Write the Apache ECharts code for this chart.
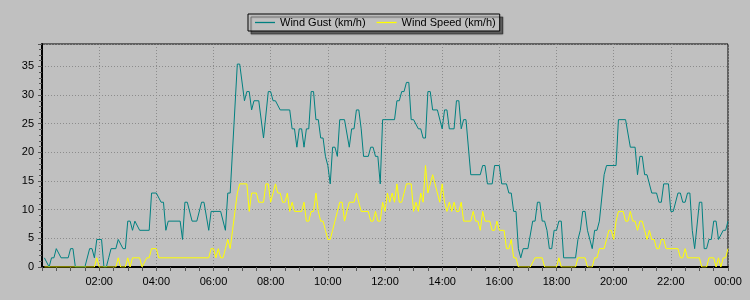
<!DOCTYPE html>
<html>
<head>
<meta charset="utf-8">
<script src="https://cdn.jsdelivr.net/npm/echarts@6/dist/echarts.min.js"></script>
<style>
html,body{margin:0;padding:0;background:#c0c0c0;}
#chart{width:750px;height:300px;}
</style>
</head>
<body>
<div id="chart"></div>
<script>
// minutes after midnight (1440 = next 00:00)
var gustTimes = [5,15,20,25,30,40,55,60,65,70,90,100,105,110,115,125,130,135,140,145,155,160,170,175,180,185,190,195,205,225,
230,240,250,255,260,265,290,295,300,305,315,325,335,340,350,355,375,385,390,395,410,415,425,430,435,440,445,455,465,
475,480,485,490,500,520,525,530,535,540,545,550,555,560,565,570,575,580,585,590,595,600,605,610,615,620,625,635,645,650,655,660,665,670,675,685,690,695,700,705,
710,715,740,745,750,755,760,765,770,775,780,790,795,800,805,810,815,820,830,840,845,850,855,865,870,875,880,885,890,900,920,925,930,935,945,950,
960,965,975,980,985,990,995,1000,1005,1010,1020,1030,1035,1040,1045,1050,1055,1060,1065,1070,1075,1080,1085,1090,1095,1120,1125,1130,1135,1140,1145,1155,1160,1165,1170,1180,1185,
1205,1210,1225,1235,1245,1250,1255,1260,1265,1270,1280,1290,1295,1300,1305,1315,1320,1325,1335,1340,1345,1350,1355,1360,1365,1370,1380,1385,1390,1395,1400,1405,1410,1415,1420,1430,1435,1440];
var gustValues = [1.6,0,1.6,1.6,3.2,1.6,1.6,3.2,3.2,0,0,3.2,3.2,1.6,4.8,4.8,0,0,1.6,3.2,3.2,4.8,3.2,3.2,8.0,8.0,6.4,8.0,6.4,6.4,
12.9,12.9,11.3,11.3,6.4,8.0,8.0,4.8,11.3,11.3,8.0,8.0,11.3,11.3,6.4,9.7,9.7,6.4,12.9,12.9,35.4,35.4,29.0,30.6,30.6,27.4,29.0,29.0,22.5,
30.6,30.6,29.0,29.0,27.4,27.4,24.1,24.1,20.9,24.1,24.1,20.9,24.1,24.1,30.6,30.6,25.7,25.7,22.5,22.5,19.3,17.7,14.5,20.9,20.9,19.3,25.7,25.7,20.9,24.1,24.1,27.4,27.4,24.1,19.3,19.3,20.9,20.9,19.3,19.3,
14.5,25.7,25.7,29.0,29.0,30.6,30.6,32.2,32.2,25.7,25.7,24.1,24.1,22.5,22.5,30.6,30.6,27.4,27.4,24.1,27.4,27.4,24.1,24.1,29.0,29.0,24.1,25.7,25.7,16.1,16.1,17.7,17.7,14.5,14.5,17.7,
17.7,14.5,14.5,12.9,12.9,9.7,9.7,3.2,1.6,3.2,3.2,8.0,8.0,11.3,11.3,8.0,8.0,6.4,3.2,3.2,6.4,6.4,8.0,8.0,1.6,1.6,4.8,6.4,9.7,9.7,6.4,3.2,6.4,6.4,8.0,16.1,17.7,
17.7,25.7,25.7,20.9,20.9,16.1,19.3,19.3,16.1,16.1,12.9,12.9,11.3,11.3,14.5,14.5,9.7,9.7,12.9,12.9,11.3,11.3,12.9,12.9,6.4,3.2,11.3,11.3,3.2,3.2,4.8,4.8,8.0,8.0,4.8,6.4,6.4,8.0];

var speedTimes = [5,110,115,120,155,160,165,175,180,185,190,205,210,220,225,230,240,245,350,355,360,365,370,375,380,385,390,395,400,405,410,415,430,435,440,450,455,465,
470,475,480,490,495,500,505,510,515,520,525,530,545,550,555,560,565,570,575,580,585,590,595,600,605,610,615,620,625,630,635,640,645,655,660,665,670,685,690,695,700,705,
710,715,720,725,730,735,740,745,750,755,760,765,775,780,785,790,795,800,805,810,820,825,830,835,840,845,850,855,860,865,870,875,880,885,900,905,910,915,920,925,930,940,945,950,
955,960,970,975,980,985,990,995,1000,1025,1035,1050,1055,1080,1085,1090,1120,1125,1140,1145,1155,1160,1165,1170,1180,1185,1190,1195,1200,1205,1210,1220,1225,1230,1235,1240,1245,
1250,1255,1260,1265,1270,1275,1280,1285,1290,1295,1300,1305,1310,1335,1340,1345,1350,1355,1380,1385,1395,1400,1410,1415,1420,1425,1430,1435,1440];
var speedValues = [0,0,1.6,0,0,1.6,0,0,1.6,0,1.6,1.6,0,1.6,1.6,3.2,3.2,1.6,1.6,3.2,3.2,1.6,3.2,1.6,1.6,3.2,4.8,3.2,6.4,9.7,12.9,14.5,14.5,9.7,12.9,12.9,11.3,11.3,
14.5,14.5,11.3,14.5,12.9,12.9,11.3,11.3,12.9,9.7,11.3,9.7,9.7,11.3,8.0,8.0,9.7,9.7,12.9,9.7,8.0,8.0,6.4,4.8,4.8,6.4,8.0,9.7,11.3,11.3,8.0,9.7,11.3,11.3,12.9,11.3,9.7,9.7,8.0,8.0,9.7,8.0,
8.0,11.3,9.7,12.9,11.3,12.9,11.3,14.5,11.3,11.3,12.9,14.5,14.5,9.7,11.3,9.7,12.9,11.3,17.7,12.9,16.1,14.5,12.9,11.3,14.5,11.3,9.7,11.3,9.7,11.3,9.7,9.7,11.3,8.0,8.0,9.7,8.0,8.0,6.4,9.7,8.0,8.0,6.4,6.4,
8.0,6.4,6.4,3.2,3.2,4.8,1.6,1.6,0,0,1.6,1.6,0,0,1.6,0,0,1.6,1.6,0,0,1.6,1.6,3.2,3.2,4.8,6.4,6.4,4.8,8.0,9.7,9.7,8.0,8.0,9.7,8.0,8.0,
6.4,8.0,8.0,6.4,4.8,6.4,4.8,4.8,3.2,3.2,4.8,4.8,3.2,3.2,1.6,1.6,3.2,1.6,1.6,0,0,1.6,1.6,0,1.6,0,1.6,1.6,3.2];

var seriesNames = ['Wind Gust (km/h)', 'Wind Speed (km/h)'];
var yTicks = [0,5,10,15,20,25,30,35];

function pairs(t, v){ return t.map(function(x,i){ return [x, v[i]]; }); }
function fmt(m){
  var h = Math.floor(m/60) % 24, mm = m % 60;
  return (h<10?'0':'')+h+':'+(mm<10?'0':'')+mm;
}
var FONT = 'Liberation Sans, Arial, sans-serif';
var chart = echarts.init(document.getElementById('chart'), null, {renderer:'canvas'});
chart.setOption({
  animation: false,
  backgroundColor: '#c0c0c0',
  textStyle: {fontFamily: FONT},
  legend: {
    left: 248, top: 14,
    padding: [3, 4, 3, 7],
    itemWidth: 20, itemHeight: 12, itemGap: 11,
    icon: 'path://M0,0H20V1.3H0Z',
    backgroundColor: '#c0c0c0',
    borderColor: '#000', borderWidth: 1,
    shadowColor: 'rgba(0,0,0,0.5)', shadowBlur: 1, shadowOffsetX: 3, shadowOffsetY: 3,
    textStyle: {fontFamily: FONT, fontSize: 11, color: '#000'},
    data: seriesNames
  },
  grid: {
    left: 42, right: 22, top: 44, bottom: 33,
    show: true, borderColor: '#000', borderWidth: 1, backgroundColor: 'transparent'
  },
  xAxis: {
    type: 'value', min: 0, max: 1440, interval: 120,
    axisLine: {show: true, onZero: false, lineStyle: {color: '#000', width: 2}},
    axisTick: {show: true, length: 4, lineStyle: {color: '#555'}},
    minorTick: {show: true, splitNumber: 4, length: 4, lineStyle: {color: '#555'}},
    axisLabel: {showMinLabel: false, fontFamily: FONT, fontSize: 11, color: '#000', margin: 9,
      formatter: function(v){ return fmt(v); }},
    splitLine: {show: true, lineStyle: {color: '#8c8c8c', type: [1,2], width: 1}}
  },
  yAxis: {
    type: 'value', min: 0, max: 38.9, interval: 5,
    axisLine: {show: true, lineStyle: {color: '#000', width: 2}},
    axisTick: {show: true, length: 4, lineStyle: {color: '#555'}},
    minorTick: {show: true, splitNumber: 5, length: 3, lineStyle: {color: '#555'}},
    axisLabel: {fontFamily: FONT, fontSize: 11, color: '#000', margin: 8,
      formatter: function(v){ return yTicks.indexOf(v) >= 0 ? String(v) : ''; }},
    splitLine: {show: true, lineStyle: {color: '#8c8c8c', type: [1,2], width: 1}}
  },
  series: [
    {name: seriesNames[0], type: 'line', symbol: 'none', data: pairs(gustTimes, gustValues),
     lineStyle: {color: '#008080', width: 1}, itemStyle: {color: '#008080'}},
    {name: seriesNames[1], type: 'line', symbol: 'none', data: pairs(speedTimes, speedValues),
     lineStyle: {color: '#ffff00', width: 1}, itemStyle: {color: '#ffff00'}}
  ]
});
</script>
</body>
</html>
